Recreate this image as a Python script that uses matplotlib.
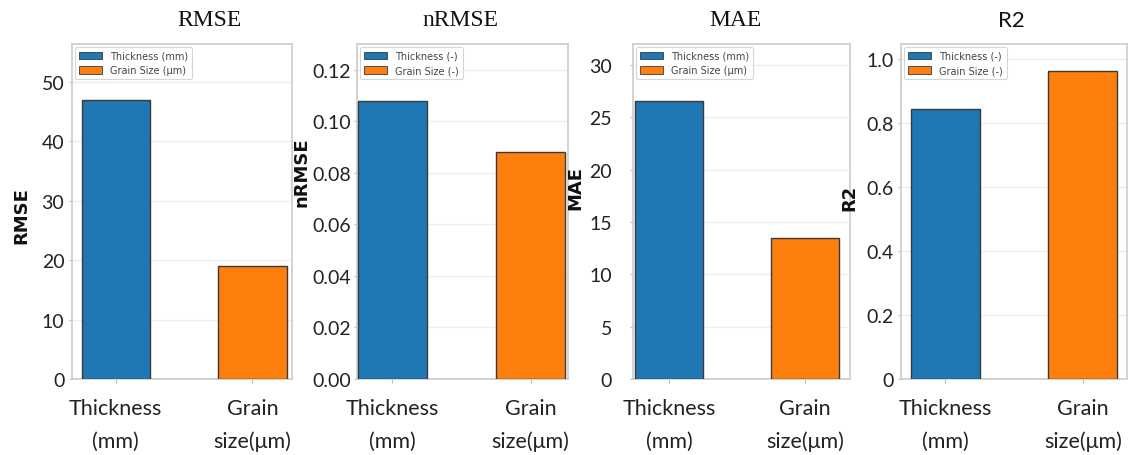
import matplotlib
matplotlib.use("Agg")
import matplotlib.pyplot as plt
from matplotlib.transforms import ScaledTranslation
from matplotlib.patches import Patch

# ---- data ----
metrics = ["RMSE", "nRMSE", "MAE", "R2"]
categories = ["Thickness\n(mm)", "Grain\nsize(μm)"]
rmse_vals = [47.0, 19.0]
nrmse_vals = [0.108, 0.088]
mae_vals = [26.6, 13.5]
r2_vals = [0.844, 0.9625]
legend_labels = [
    ["Thickness (mm)", "Grain Size (μm)"],
    ["Thickness (-)", "Grain Size (-)"],
    ["Thickness (mm)", "Grain Size (μm)"],
    ["Thickness (-)", "Grain Size (-)"],
]
yticks = [
    [0, 10, 20, 30, 40, 50],
    [0.00, 0.02, 0.04, 0.06, 0.08, 0.10, 0.12],
    [0, 5, 10, 15, 20, 25, 30],
    [0, 0.2, 0.4, 0.6, 0.8, 1.0],
]
ytick_labels = [
    ["0", "10", "20", "30", "40", "50"],
    ["0.00", "0.02", "0.04", "0.06", "0.08", "0.10", "0.12"],
    ["0", "5", "10", "15", "20", "25", "30"],
    ["0", "0.2", "0.4", "0.6", "0.8", "1.0"],
]
all_vals = [rmse_vals, nrmse_vals, mae_vals, r2_vals]

# ---- layout (pixels) ----
W, H = 1136, 456
fig = plt.figure(figsize=(W / 100, H / 100), dpi=100)
boxes = [(72, 292), (357, 568), (633, 850), (901, 1127)]
top_px, bot_px = 45, 380
ylims = [(0, 56.4), (0, 0.130), (0, 32.0), (0, 1.047)]
xlims = [(-0.32, 1.29), (-0.256, 1.27), (-0.265, 1.33), (-0.32, 1.32)]
tick_pads = [3.5, 2.5, 13, 3]
colors = ["#1f77b4", "#ff7f0e"]
title_pos = [(209, "serif"), (460, "serif"), (735, "serif"), (1011, "sans")]
ylabel_pos = [(21, 216), (301, 172), (575, 188), (849, 198)]
fam = ["Lato", "DejaVu Sans"]

for i, (l, r) in enumerate(boxes):
    ax = fig.add_axes([l / W, (H - bot_px) / H, (r - l) / W, (bot_px - top_px) / H])
    x = [0, 1]
    ax.bar(x, all_vals[i], width=0.5, color=colors, edgecolor="#3a3a3a",
           linewidth=1.0, zorder=3)
    ax.set_xlim(*xlims[i])
    ax.set_ylim(*ylims[i])
    ax.set_yticks(yticks[i])
    ax.set_yticklabels(ytick_labels[i], fontsize=14, family=fam, color="#222222")
    ax.set_xticks(x)
    ax.set_xticklabels(categories, fontsize=15.5, family=fam,
                       color="#222222", linespacing=1.75)
    for lab in ax.get_xticklabels():
        lab.set_transform(lab.get_transform() + ScaledTranslation(0.10, 0, fig.dpi_scale_trans))
    ax.tick_params(axis="y", length=2, width=0.8, color="#bbbbbb", pad=tick_pads[i])
    ax.tick_params(axis="x", length=3, width=0.8, color="#bbbbbb", pad=11)
    ax.grid(axis="y", color="#eeeeee", linewidth=1.0, zorder=0)
    ax.set_axisbelow(True)
    for s in ax.spines.values():
        s.set_color("#cccccc")
        s.set_linewidth(1.2)
    handles = [Patch(facecolor=colors[0], edgecolor="#3a3a3a", linewidth=0.6),
               Patch(facecolor=colors[1], edgecolor="#3a3a3a", linewidth=0.6)]
    leg = ax.legend(handles, legend_labels[i], loc="upper left", fontsize=7,
                    frameon=True, borderaxespad=0.3, handlelength=2.4,
                    handleheight=0.8, labelspacing=0.45, fancybox=True,
                    borderpad=0.4)
    for t in leg.get_texts():
        t.set_color("#444444")
    leg.get_frame().set_edgecolor("#cccccc")
    leg.get_frame().set_linewidth(0.8)

    tx, kind = title_pos[i]
    if kind == "serif":
        fig.text(tx / W, 1 - 21 / H, metrics[i], ha="center", va="center",
                 fontsize=17, family="Liberation Serif", color="#111111")
    else:
        fig.text(tx / W, 1 - 21 / H, metrics[i], ha="center", va="center",
                 fontsize=16, family=fam, color="#111111")
    lx, ly = ylabel_pos[i]
    fig.text(lx / W, 1 - ly / H, metrics[i], ha="center", va="center", rotation=90,
             fontsize=13, fontweight="bold", family="DejaVu Sans", color="#111111")

fig.savefig("out.png", dpi=100, facecolor="white")
